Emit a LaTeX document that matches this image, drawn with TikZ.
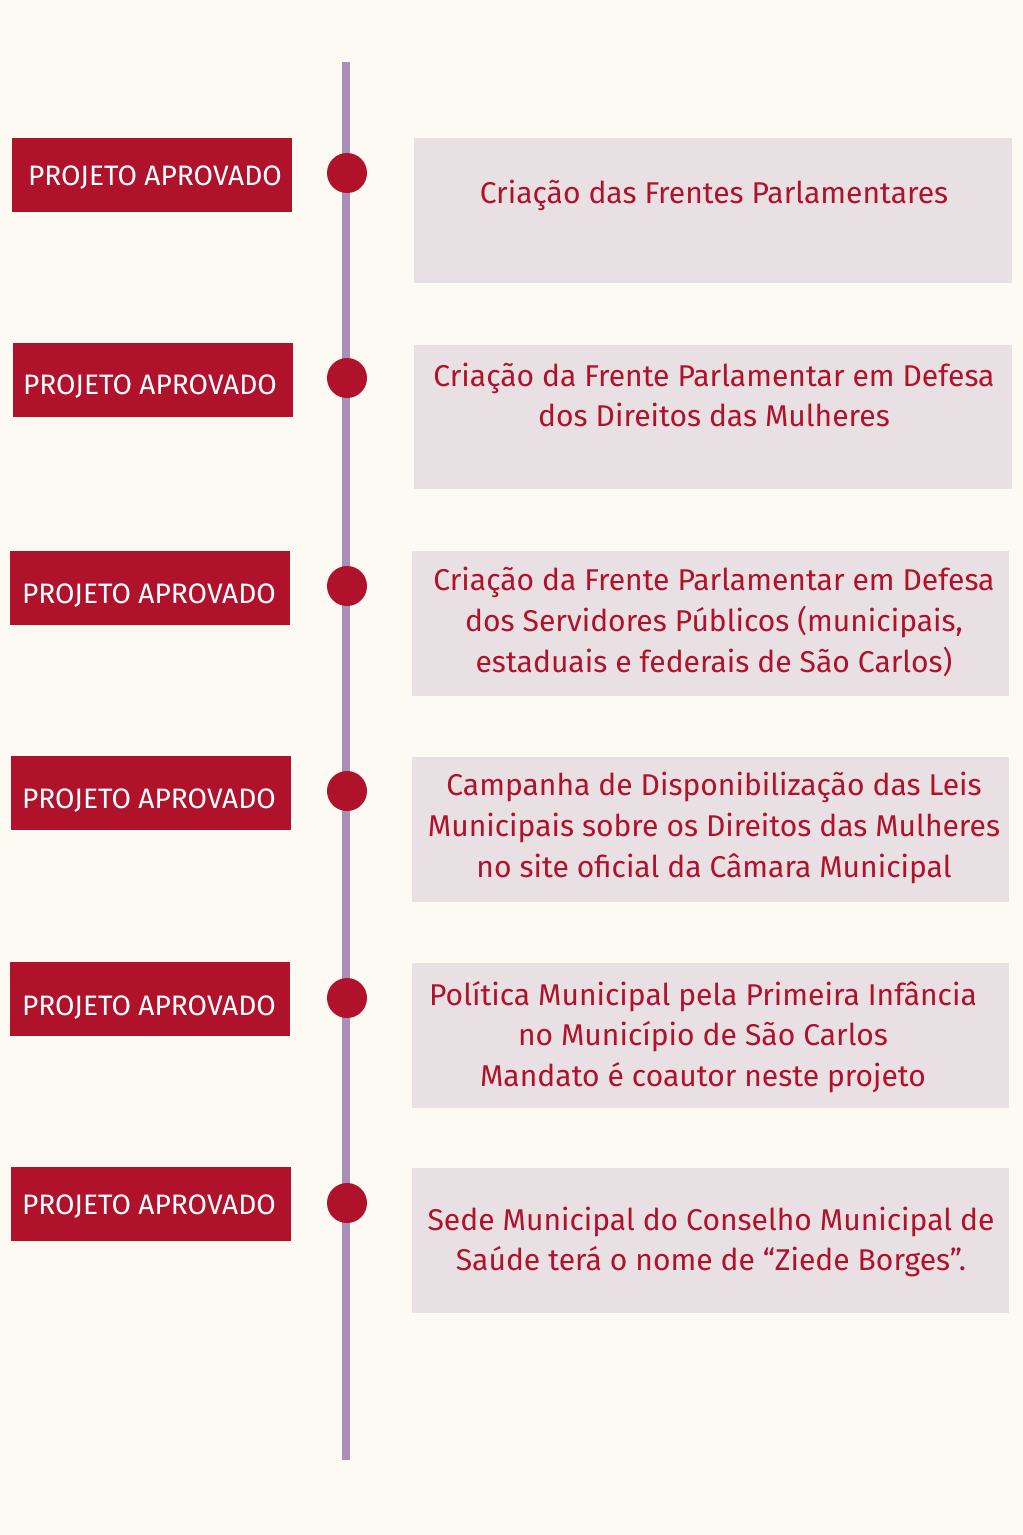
\documentclass[tikz,border=0pt]{standalone}
\usepackage{fontspec}
\setmainfont{Fira Sans}
\usepackage{tikz}
\definecolor{timelineBg}{HTML}{FDF9F3}
\definecolor{timelineRed}{HTML}{B0122B}
\definecolor{timelineGray}{HTML}{E8E0E3}
\definecolor{timelineLine}{HTML}{A98EB8}

\tikzset{
  tagbox/.style={fill=timelineRed, minimum width=5.6cm, minimum height=1.48cm, inner sep=0pt},
  tagtext/.style={text=white, inner sep=0pt, font=\fontsize{16}{18}\selectfont},
  infobox/.style={fill=timelineGray, minimum width=11.96cm, minimum height=2.9cm, inner sep=0pt},
  infotext/.style={text=timelineRed, align=center, font=\fontsize{17.1}{23.2}\selectfont},
  dot/.style={circle, fill=timelineRed, minimum size=0.8cm, inner sep=0pt}
}

\begin{document}
\begin{tikzpicture}[x=0.02cm, y=-0.02cm]
            \fill[timelineBg] (0,0) rectangle (1023,1535);
            \useasboundingbox (0,0) rectangle (1023,1535);
            \coordinate (top) at (346,62);
            \coordinate (bottom) at (346,1460);
            \draw[timelineLine, line width=8*0.02cm] (top) -- (bottom);
            % etiquetas
            \node[tagbox] (tag1) at (152,175) {};
            \node[tagbox] (tag2) at (153,380) {};
            \node[tagbox] (tag3) at (150,588) {};
            \node[tagbox] (tag4) at (151,793) {};
            \node[tagbox] (tag5) at (150,999) {};
            \node[tagbox] (tag6) at (151,1204) {};
            \node[tagtext] (label1) at (155,178) {PROJETO APROVADO};
            \node[tagtext] (label2) at (150,387) {PROJETO APROVADO};
            \node[tagtext] (label3) at (149,596) {PROJETO APROVADO};
            \node[tagtext] (label4) at (149,801) {PROJETO APROVADO};
            \node[tagtext] (label5) at (149,1008) {PROJETO APROVADO};
            \node[tagtext] (label6) at (149,1207) {PROJETO APROVADO};
            % marcadores
            \node[dot] (dot1) at (347,173) {};
            \node[dot] (dot2) at (347,378) {};
            \node[dot] (dot3) at (347,586) {};
            \node[dot] (dot4) at (347,791) {};
            \node[dot] (dot5) at (347,998) {};
            \node[dot] (dot6) at (347,1203) {};
            % caixas
            \node[infobox] (box1) at (713,210.5) {};
            \node[infobox] (box2) at (713,417) {};
            \node[infobox] (box3) at (710.5,623.5) {};
            \node[infobox] (box4) at (710.5,829.5) {};
            \node[infobox] (box5) at (710.5,1035.5) {};
            \node[infobox] (box6) at (710.5,1240.5) {};
            \node[infotext] (text1) at (714,195) {Criação das Frentes Parlamentares};
            \node[infotext] (text2) at (714,395) {Criação da Frente Parlamentar em Defesa\\dos Direitos das Mulheres};
            \node[infotext] (text3) at (714,622) {Criação da Frente Parlamentar em Defesa\\dos Servidores Públicos (municipais,\\estaduais e federais de São Carlos)};
            \node[infotext] (text4) at (714,828) {Campanha de Disponibilização das Leis\\Municipais sobre os Direitos das Mulheres\\no site oficial da Câmara Municipal};
            \node[infotext] (text5) at (703,1037) {Política Municipal pela Primeira Infância\\no Município de São Carlos\\Mandato é coautor neste projeto};
            \node[infotext] (text6) at (711,1242) {Sede Municipal do Conselho Municipal de\\Saúde terá o nome de “Ziede Borges”.};
        \end{tikzpicture}
\end{document}
